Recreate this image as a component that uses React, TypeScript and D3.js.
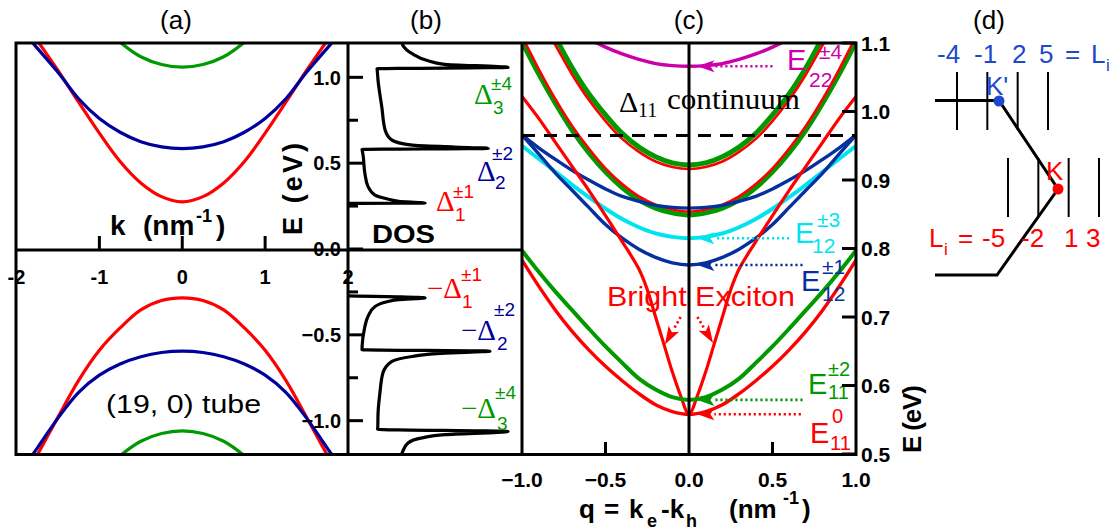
import React from "react";
import * as d3 from "d3";

const W = 1117;
const H = 531;
const SANS = "'Liberation Sans', Arial, Helvetica, sans-serif";
const SERIF = "'Liberation Serif', 'Times New Roman', serif";

const RED = "#ff0000";
const GREEN = "#009a00";
const BLUE_A = "#00009a";
const BLUE_C = "#06309e";
const CYAN = "#00e4f0";
const MAGENTA = "#cc00a8";
const DBLUE = "#2048cc";

// ---------- Panel (a): band structure (k >= 0 half, mirrored) ----------
const kA = [0, 0.25, 0.5, 0.75, 1.0, 1.25, 1.5, 1.75, 2.0];
const condRed = [0.275, 0.305, 0.385, 0.51, 0.675, 0.855, 1.04, 1.215, 1.39];
const condBlue = [0.585, 0.595, 0.625, 0.68, 0.76, 0.875, 1.03, 1.17, 1.31];
const kGreen = [0, 0.25, 0.5, 0.75, 1.0];
const condGreen = [1.06, 1.075, 1.12, 1.205, 1.32];
const valRed = [-0.285, -0.3, -0.355, -0.46, -0.59, -0.765, -0.98, -1.2, -1.4];
const valBlue = [-0.595, -0.603, -0.628, -0.67, -0.735, -0.835, -0.985, -1.16, -1.33];
const valGreen = [-1.06, -1.075, -1.12, -1.205, -1.32];

const kTicks = [-2, -1, 0, 1, 2];
const eMajor = [1.0, 0.5, 0.0, -0.5, -1.0];
const eMinor = [0.75, 0.25, -0.25, -0.75];

// ---------- Panel (b): DOS path as [dos, E] ----------
const dosCond: [number, number][] = [
  [0, 0.266], [0.456, 0.268], [0.3, 0.278], [0.24, 0.29], [0.16, 0.314], [0.118, 0.365],
  [0.1, 0.44], [0.089, 0.547], [0.084, 0.575], [0.083, 0.58], [0.83, 0.586],
  [0.63, 0.594], [0.38, 0.605], [0.26, 0.634], [0.22, 0.692], [0.2, 0.828],
  [0.178, 0.98], [0.173, 1.04], [0.172, 1.05], [0.947, 1.058], [0.57, 1.076],
  [0.47, 1.098], [0.38, 1.138], [0.325, 1.186], [0.32, 1.2],
];
const dosVal: [number, number][] = [
  [0, -0.273], [0.456, -0.285], [0.3, -0.295], [0.237, -0.306], [0.16, -0.335], [0.118, -0.394],
  [0.096, -0.471], [0.084, -0.56], [0.083, -0.587], [0.84, -0.595],
  [0.574, -0.606], [0.379, -0.626], [0.26, -0.655], [0.207, -0.721], [0.189, -0.837],
  [0.178, -0.953], [0.176, -1.041], [0.175, -1.05], [0.947, -1.063], [0.574, -1.081],
  [0.438, -1.1], [0.355, -1.13], [0.32, -1.188], [0.314, -1.2],
];

// ---------- Panel (c): exciton dispersions (q >= 0 half, mirrored) ----------
const qC = [0, 0.1, 0.2, 0.3, 0.4, 0.5, 0.6, 0.7, 0.8, 0.9, 1.0];
const qE22 = [0, 0.1, 0.2, 0.3, 0.4, 0.5, 0.6, 0.7];
const e22 = [1.066, 1.067, 1.07, 1.076, 1.084, 1.094, 1.106, 1.12];
const qUp = [0, 0.1, 0.2, 0.3, 0.4, 0.5, 0.6, 0.7, 0.8, 0.9];
const upGreen = [0.922, 0.925, 0.934, 0.948, 0.968, 0.995, 1.026, 1.064, 1.108, 1.15];
const upRed = [0.916, 0.919, 0.927, 0.941, 0.96, 0.986, 1.017, 1.054, 1.097, 1.14];
const lowGreen = [0.849, 0.852, 0.859, 0.871, 0.889, 0.912, 0.94, 0.973, 1.012, 1.055, 1.102];
const lowRed = [0.854, 0.857, 0.864, 0.876, 0.894, 0.917, 0.946, 0.979, 1.018, 1.062, 1.11];
const e12Low = [0.776, 0.779, 0.787, 0.799, 0.815, 0.835, 0.86, 0.885, 0.91, 0.938, 0.966];
const e12Up = [0.859, 0.86, 0.863, 0.869, 0.876, 0.887, 0.9, 0.914, 0.93, 0.947, 0.966];
const e12Cyan = [0.815, 0.817, 0.822, 0.831, 0.843, 0.858, 0.875, 0.893, 0.912, 0.931, 0.95];
const e11Green = [0.579, 0.583, 0.594, 0.61, 0.633, 0.657, 0.683, 0.71, 0.737, 0.766, 0.797];
const e11Red = [0.558, 0.562, 0.572, 0.588, 0.607, 0.628, 0.652, 0.679, 0.71, 0.745, 0.783];
const qBright = [0, 0.05, 0.1, 0.15, 0.2, 0.25, 0.3, 0.4, 0.5, 0.6, 0.7, 0.8, 0.9, 1.0];
const eBright = [0.558, 0.585, 0.62, 0.66, 0.7, 0.74, 0.77, 0.81, 0.848, 0.885, 0.92, 0.955, 0.99, 1.022];
const continuumE = 0.965;

const qTicks = [-1.0, -0.5, 0.0, 0.5, 1.0];
const eTicksC = [1.1, 1.0, 0.9, 0.8, 0.7, 0.6, 0.5];

// ---------- Panel (d) ----------
const liTop = ["-4", "-1", "2", "5"];
const liBot = ["-5", "-2", "1", "3"];

function mirror(xs: number[], ys: number[]): [number, number][] {
  const out: [number, number][] = [];
  for (let i = xs.length - 1; i > 0; i--) out.push([-xs[i], ys[i]]);
  for (let i = 0; i < xs.length; i++) out.push([xs[i], ys[i]]);
  return out;
}

const xA = d3.scaleLinear().domain([-2, 2]).range([16.5, 348]);
const yE = d3.scaleLinear().domain([-1.2, 1.2]).range([455, 43]);
const xDos = d3.scaleLinear().domain([0, 1]).range([348, 517]);
const xQ = d3.scaleLinear().domain([-1, 1]).range([522, 856]);
const yQ = d3.scaleLinear().domain([0.5, 1.1]).range([454, 43]);

const lineA = d3.line<[number, number]>().x((d) => xA(d[0])).y((d) => yE(d[1])).curve(d3.curveCatmullRom.alpha(0.5));
const lineDos = d3.line<[number, number]>().x((d) => xDos(d[0])).y((d) => yE(d[1])).curve(d3.curveMonotoneY);
const lineC = d3.line<[number, number]>().x((d) => xQ(d[0])).y((d) => yQ(d[1])).curve(d3.curveCatmullRom.alpha(0.5));

type LabProps = {
  main: string; mx: number; my: number; msize: number; mfont: string;
  sup?: string; sx?: number; sy?: number; sub?: string; bx?: number; by?: number;
  ssize: number; sfont: string; color: string;
};
const Lab = (p: LabProps) => (
  <g fill={p.color}>
    <text x={p.mx} y={p.my} fontSize={p.msize} fontFamily={p.mfont}>{p.main}</text>
    {p.sup ? <text x={p.sx} y={p.sy} fontSize={p.ssize} fontFamily={p.sfont}>{p.sup}</text> : null}
    {p.sub ? <text x={p.bx} y={p.by} fontSize={p.ssize} fontFamily={p.sfont}>{p.sub}</text> : null}
  </g>
);

function Arrow({ x1, y1, x2, y2, color, head = 17, hw = 6 }: { x1: number; y1: number; x2: number; y2: number; color: string; head?: number; hw?: number }) {
  const dx = x2 - x1, dy = y2 - y1;
  const L = Math.hypot(dx, dy);
  const ux = dx / L, uy = dy / L;
  const bx = x2 - ux * head, by = y2 - uy * head;
  const px = -uy, py = ux;
  return (
    <g>
      <line x1={x1} y1={y1} x2={bx} y2={by} stroke={color} strokeWidth={2.6} strokeDasharray="2.2,2.8" />
      <path d={`M${x2},${y2}L${bx + px * hw},${by + py * hw}L${bx + ux * 4},${by + uy * 4}L${bx - px * hw},${by - py * hw}Z`} fill={color} />
    </g>
  );
}

export default function App() {
  const topX = d3.scalePoint<string>().domain(liTop).range([957, 1048]);
  const botX = d3.scalePoint<string>().domain(liBot).range([1008, 1099]);
  const fmt1 = d3.format(".1f");

  const arrowsC = [
    { color: MAGENTA, e: e22[0], tail: 0.5 },
    { color: CYAN, e: e12Cyan[0], tail: 0.6 },
    { color: BLUE_C, e: e12Low[0], tail: 0.68 },
    { color: GREEN, e: e11Green[0], tail: 0.68 },
    { color: RED, e: e11Red[0], tail: 0.67 },
  ];

  return (
    <svg width={W} height={H} style={{ position: "absolute", left: 0, top: 0, background: "#fff" }} fontFamily={SANS}>
      <defs>
        <clipPath id="clipAtop"><rect x={16} y={43} width={332} height={207} /></clipPath>
        <clipPath id="clipAbot"><rect x={16} y={250} width={332} height={205} /></clipPath>
        <clipPath id="clipB"><rect x={348} y={43} width={174} height={412} /></clipPath>
        <clipPath id="clipC"><rect x={522} y={43} width={334} height={411} /></clipPath>
      </defs>

      {/* Titles */}
      <g fontSize={26} textAnchor="middle">
        <text x={176} y={29}>(a)</text>
        <text x={426} y={29}>(b)</text>
        <text x={689} y={29}>(c)</text>
        <text x={989} y={29}>(d)</text>
      </g>

      {/* Panel (a) curves */}
      <g clipPath="url(#clipAtop)" fill="none" strokeWidth={3.2}>
        <path d={lineA(mirror(kGreen, condGreen)) || ""} stroke={GREEN} />
        <path d={lineA(mirror(kA, condRed)) || ""} stroke={RED} />
        <path d={lineA(mirror(kA, condBlue)) || ""} stroke={BLUE_A} />
      </g>
      <g clipPath="url(#clipAbot)" fill="none" strokeWidth={3.2}>
        <path d={lineA(mirror(kGreen, valGreen)) || ""} stroke={GREEN} />
        <path d={lineA(mirror(kA, valRed)) || ""} stroke={RED} />
        <path d={lineA(mirror(kA, valBlue)) || ""} stroke={BLUE_A} />
      </g>

      {/* k axis */}
      {kTicks.filter((k) => Math.abs(k) < 2).map((k) => (
        <line key={"kt" + k} x1={xA(k)} x2={xA(k)} y1={yE(0)} y2={yE(0) - 13} stroke="#000" strokeWidth={3} />
      ))}
      <g fontSize={20} fontWeight="bold" textAnchor="middle">
        {kTicks.map((k) => (
          <text key={"kl" + k} x={xA(k)} y={284}>{String(k)}</text>
        ))}
      </g>
      <text y={235} fontSize={28} fontWeight="bold">
        <tspan x={110}>k</tspan>
        <tspan x={143}>(nm</tspan>
        <tspan x={196} dy={-13} fontSize={18}>-1</tspan>
        <tspan x={216} dy={13}>)</tspan>
      </text>
      <text x={106} y={413} fontSize={26} textLength={155} lengthAdjust="spacingAndGlyphs">(19, 0) tube</text>

      {/* E axis for (a)/(b) */}
      <g fontSize={20} fontWeight="bold" textAnchor="end">
        {eMajor.map((e) => (
          <text key={"el" + e} x={341} y={yE(e)} dy="0.36em">{fmt1(e)}</text>
        ))}
      </g>
      {eMajor.map((e) => (
        <line key={"et" + e} x1={348} x2={363} y1={yE(e)} y2={yE(e)} stroke="#000" strokeWidth={3} />
      ))}
      {eMinor.map((e) => (
        <line key={"em" + e} x1={348} x2={358} y1={yE(e)} y2={yE(e)} stroke="#000" strokeWidth={3} />
      ))}
      <text transform="translate(302,189) rotate(-90)" textAnchor="middle" fontSize={27} fontWeight="bold" textLength={92} lengthAdjust="spacing">E (eV)</text>

      {/* Panel (b) DOS */}
      <g clipPath="url(#clipB)" fill="none" stroke="#000" strokeWidth={3.2} strokeLinejoin="round">
        <path d={lineDos(dosCond) || ""} />
        <path d={lineDos(dosVal) || ""} />
      </g>
      <text x={372} y={243} fontSize={25} fontWeight="bold" textLength={63} lengthAdjust="spacingAndGlyphs">DOS</text>
      <Lab main="Δ" mx={474} my={104} msize={29} mfont={SERIF} sup="±4" sx={491} sy={90} sub="3" bx={493} by={114} ssize={19} sfont={SANS} color={GREEN} />
      <Lab main="Δ" mx={477} my={181} msize={29} mfont={SERIF} sup="±2" sx={492} sy={160} sub="2" bx={495} by={189} ssize={19} sfont={SANS} color={BLUE_A} />
      <Lab main="Δ" mx={436} my={211} msize={29} mfont={SERIF} sup="±1" sx={453} sy={198} sub="1" bx={455} by={221} ssize={19} sfont={SANS} color={RED} />
      <Lab main="−Δ" mx={427} my={298} msize={29} mfont={SERIF} sup="±1" sx={461} sy={281} sub="1" bx={462} by={308} ssize={19} sfont={SANS} color={RED} />
      <Lab main="−Δ" mx={461} my={340} msize={29} mfont={SERIF} sup="±2" sx={494} sy={316} sub="2" bx={497} by={350} ssize={19} sfont={SANS} color={BLUE_A} />
      <Lab main="−Δ" mx={461} my={418} msize={29} mfont={SERIF} sup="±4" sx={495} sy={399} sub="3" bx={497} by={430} ssize={19} sfont={SANS} color={GREEN} />

      {/* Panel (c) curves */}
      <g clipPath="url(#clipC)" fill="none">
        <path d={lineC(mirror(qE22, e22)) || ""} stroke={MAGENTA} strokeWidth={3.4} />
        <path d={lineC(mirror(qUp, upGreen)) || ""} stroke={GREEN} strokeWidth={5} />
        <path d={lineC(mirror(qUp, upRed)) || ""} stroke={RED} strokeWidth={2.6} />
        <path d={lineC(mirror(qC, lowGreen)) || ""} stroke={GREEN} strokeWidth={5} />
        <path d={lineC(mirror(qC, lowRed)) || ""} stroke={RED} strokeWidth={2.6} />
        <path d={lineC(mirror(qC, e12Up)) || ""} stroke={BLUE_C} strokeWidth={3.4} />
        <path d={lineC(mirror(qC, e12Cyan)) || ""} stroke={CYAN} strokeWidth={4} />
        <path d={lineC(mirror(qC, e12Low)) || ""} stroke={BLUE_C} strokeWidth={3.4} />
        <path d={lineC(mirror(qBright, eBright)) || ""} stroke={RED} strokeWidth={3.2} />
        <path d={lineC(mirror(qC, e11Green)) || ""} stroke={GREEN} strokeWidth={4} />
        <path d={lineC(mirror(qC, e11Red)) || ""} stroke={RED} strokeWidth={3.4} />
        <line x1={xQ(-1)} x2={xQ(1)} y1={yQ(continuumE)} y2={yQ(continuumE)} stroke="#000" strokeWidth={3.2} strokeDasharray="13,9" />
      </g>
      <line x1={xQ(0)} x2={xQ(0)} y1={43} y2={454} stroke="#000" strokeWidth={3} />

      {arrowsC.map((a) => (
        <Arrow key={a.color} x1={xQ(a.tail)} y1={yQ(a.e)} x2={xQ(0.05)} y2={yQ(a.e)} color={a.color} />
      ))}
      <Arrow x1={xQ(-0.05)} y1={yQ(0.70)} x2={xQ(-0.144)} y2={yQ(0.66)} color={RED} head={18} hw={6} />
      <Arrow x1={xQ(0.05)} y1={yQ(0.70)} x2={xQ(0.144)} y2={yQ(0.662)} color={RED} head={18} hw={6} />

      <text x={607} y={306} fontSize={28} fill={RED} textLength={188} lengthAdjust="spacingAndGlyphs">Bright Exciton</text>
      <g fontFamily={SERIF} fill="#000">
        <text x={619} y={112} fontSize={30}>Δ</text>
        <text x={638} y={117} fontSize={20}>11</text>
        <text x={667} y={109} fontSize={30} textLength={133} lengthAdjust="spacingAndGlyphs">continuum</text>
      </g>

      <Lab main="E" mx={787} my={70} msize={29} mfont={SANS} sup="±4" sx={819} sy={59} sub="22" bx={809} by={87} ssize={21} sfont={SANS} color={MAGENTA} />
      <Lab main="E" mx={795} my={243} msize={29} mfont={SANS} sup="±3" sx={817} sy={227} sub="12" bx={812} by={253} ssize={21} sfont={SANS} color={CYAN} />
      <Lab main="E" mx={801} my={291} msize={29} mfont={SANS} sup="±1" sx={822} sy={274} sub="12" bx={822} by={301} ssize={21} sfont={SANS} color={BLUE_C} />
      <Lab main="E" mx={808} my={394} msize={29} mfont={SANS} sup="±2" sx={828} sy={376} sub="11" bx={828} by={399} ssize={20} sfont={SANS} color={GREEN} />
      <Lab main="E" mx={810} my={443} msize={29} mfont={SANS} sup="0" sx={832} sy={423} sub="11" bx={830} by={450} ssize={20} sfont={SANS} color={RED} />

      {/* Panel (c) axes */}
      {[-0.5, 0.5].map((q) => (
        <line key={"qt" + q} x1={xQ(q)} x2={xQ(q)} y1={454} y2={442} stroke="#000" strokeWidth={3} />
      ))}
      <g fontSize={21} fontWeight="bold" textAnchor="middle">
        {qTicks.map((q) => (
          <text key={"ql" + q} x={xQ(q)} y={487}>{fmt1(q)}</text>
        ))}
      </g>
      {eTicksC.map((e) => (
        <line key={"ct" + e} x1={842} x2={856} y1={yQ(e)} y2={yQ(e)} stroke="#000" strokeWidth={3} />
      ))}
      <g fontSize={21} fontWeight="bold">
        {eTicksC.map((e) => (
          <text key={"cl" + e} x={861} y={yQ(e)} dy="0.36em">{fmt1(e)}</text>
        ))}
      </g>
      <text y={518} fontSize={26} fontWeight="bold">
        <tspan x={579}>q</tspan>
        <tspan x={604}>=</tspan>
        <tspan x={629}>k</tspan>
        <tspan x={647} dy={9} fontSize={18}>e</tspan>
        <tspan x={661} dy={-9}>-k</tspan>
        <tspan x={686} dy={9} fontSize={18}>h</tspan>
        <tspan x={729} dy={-9}>(nm</tspan>
        <tspan x={783} dy={-14} fontSize={18}>-1</tspan>
        <tspan x={802} dy={14}>)</tspan>
      </text>
      <text transform="translate(921,419) rotate(-90)" textAnchor="middle" fontSize={26} fontWeight="bold" textLength={68} lengthAdjust="spacing">E (eV)</text>

      {/* Frames */}
      <g stroke="#000" strokeWidth={3} fill="none">
        <rect x={16} y={43} width={840} height={411.5} fill="none" />
        <line x1={16} x2={522} y1={250} y2={250} />
        <line x1={348} x2={348} y1={43} y2={455} />
        <line x1={522} x2={522} y1={43} y2={455} />
      </g>

      {/* Panel (d) */}
      <g stroke="#000" strokeWidth={2}>
        {liTop.map((l) => (
          <line key={"vt" + l} x1={topX(l)} x2={topX(l)} y1={72} y2={130} />
        ))}
        {liBot.map((l) => (
          <line key={"vb" + l} x1={botX(l)} x2={botX(l)} y1={158} y2={217} />
        ))}
      </g>
      <path d="M935,100.5L999,100.5L1058,189L997,275L935,275" fill="none" stroke="#000" strokeWidth={3} strokeLinejoin="miter" />
      <circle cx={999} cy={101} r={5.5} fill={DBLUE} />
      <circle cx={1058} cy={189} r={5.5} fill={RED} />
      <text x={986} y={95} fontSize={26} fill={DBLUE}>K'</text>
      <text x={1046} y={180} fontSize={26} fill={RED}>K</text>
      <g fontSize={26} fill={DBLUE}>
        <text x={937} y={63}>-4</text>
        <text x={974} y={63}>-1</text>
        <text x={1012} y={63}>2</text>
        <text x={1039} y={63}>5</text>
        <text x={1065} y={63}>=</text>
        <text x={1091} y={63}>L</text>
        <text x={1106} y={71} fontSize={17}>i</text>
      </g>
      <g fontSize={26} fill={RED}>
        <text x={929} y={247}>L</text>
        <text x={944} y={255} fontSize={17}>i</text>
        <text x={958} y={247}>=</text>
        <text x={982} y={247}>-5</text>
        <text x={1021} y={247}>-2</text>
        <text x={1064} y={247}>1</text>
        <text x={1086} y={247}>3</text>
      </g>
    </svg>
  );
}
